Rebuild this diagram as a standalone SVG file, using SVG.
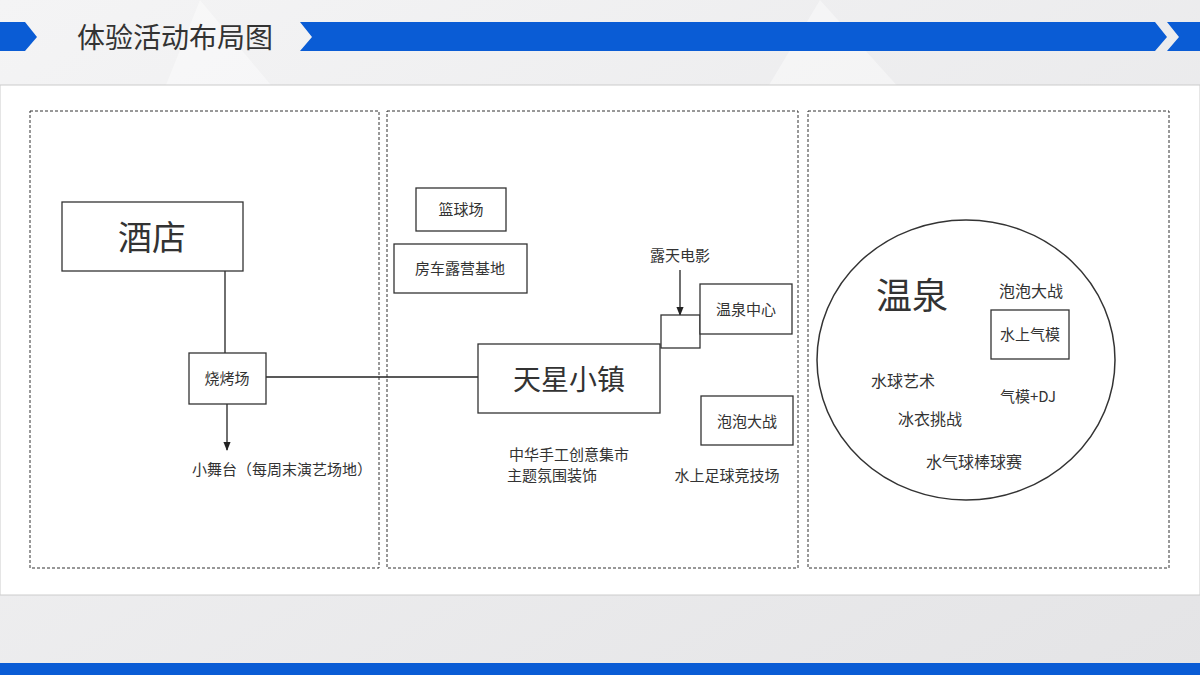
<svg xmlns="http://www.w3.org/2000/svg" width="1200" height="675" viewBox="0 0 1200 675">
<defs>
<marker id="ar" viewBox="0 0 10 10" refX="9" refY="5" markerWidth="7" markerHeight="7" orient="auto"><path d="M0,1 L10,5 L0,9 z" fill="#222"/></marker>
<linearGradient id="bg" x1="0" y1="0" x2="1" y2="1"><stop offset="0" stop-color="#f4f4f5"/><stop offset="1" stop-color="#e4e4e6"/></linearGradient>
</defs>
<style>
.t{font-family:"Noto Sans CJK SC","Noto Sans",sans-serif;fill:#333;text-anchor:middle}
.b{fill:#fff;stroke:#333;stroke-width:1.3}
.d{fill:none;stroke:#333;stroke-width:1;stroke-dasharray:3,2}
.c{stroke:#222;stroke-width:1.3;fill:none}
</style>
<rect width="1200" height="675" fill="url(#bg)"/>
<polygon points="200,0 350,180 100,250" fill="#fff" opacity="0.4"/>
<polygon points="820,0 1000,200 700,200" fill="#fff" opacity="0.4"/>
<polygon points="0,22 25,22 37,37 25,51 0,51" fill="#0a5cd5"/>
<polygon points="300,22 1155,22 1167,37 1155,51 300,51 312,37" fill="#0a5cd5"/>
<polygon points="1167,22 1200,22 1200,51 1167,51 1179,37" fill="#0a5cd5"/>
<text x="175" y="48" class="t" font-size="28" fill="#333">体验活动布局图</text>
<rect x="0" y="663" width="1200" height="12" fill="#0a5cd5"/>
<rect x="0" y="85" width="1200" height="510" fill="#fff" stroke="#ccc"/>
<rect x="30" y="111" width="349" height="457" class="d"/>
<rect x="387" y="111" width="411" height="457" class="d"/>
<rect x="808" y="111" width="361" height="457" class="d"/>
<g id="connectors">
<line x1="225" y1="271" x2="225" y2="353" class="c"/>
<line x1="266" y1="377" x2="478" y2="377" class="c"/>
<line x1="227" y1="404" x2="227" y2="450" class="c" marker-end="url(#ar)"/>
<line x1="680" y1="270" x2="680" y2="315" class="c" marker-end="url(#ar)"/>
</g>
<g id="hotel"><rect x="62" y="202" width="181" height="69" class="b"/><text x="152" y="250" class="t" font-size="34">酒店</text></g>
<g id="bbq"><rect x="189" y="353" width="77" height="51" class="b"/><text x="227" y="384" class="t" font-size="15">烧烤场</text></g>
<g id="stage"><text x="282" y="475" class="t" font-size="15">小舞台（每周末演艺场地）</text></g>
<g id="basket"><rect x="416" y="188" width="90" height="43" class="b"/><text x="461" y="215" class="t" font-size="15">篮球场</text></g>
<g id="rv"><rect x="394" y="244" width="133" height="49" class="b"/><text x="460" y="274" class="t" font-size="15">房车露营基地</text></g>
<g id="town"><rect x="478" y="344" width="182" height="69" class="b"/><text x="569" y="390" class="t" font-size="28">天星小镇</text></g>
<g id="small"><rect x="661" y="315" width="39" height="33" class="b"/></g>
<g id="movie"><text x="680" y="261" class="t" font-size="15">露天电影</text></g>
<g id="spa"><rect x="700" y="284" width="92" height="50" class="b"/><text x="746" y="315" class="t" font-size="15">温泉中心</text></g>
<g id="bubble"><rect x="701" y="396" width="92" height="49" class="b"/><text x="747" y="427" class="t" font-size="15">泡泡大战</text></g>
<g id="craft"><text x="569" y="460" class="t" font-size="15">中华手工创意集市</text><text x="552" y="481" class="t" font-size="15">主题氛围装饰</text></g>
<g id="soccer"><text x="727" y="481" class="t" font-size="15">水上足球竞技场</text></g>
<g id="hotspring">
<ellipse cx="966" cy="360" rx="149" ry="140" fill="#fff" stroke="#333" stroke-width="1.5"/>
<text x="912" y="309" class="t" font-size="36">温泉</text>
<text x="1031" y="297" class="t" font-size="16">泡泡大战</text>
<rect x="991" y="310" width="78" height="49" class="b"/><text x="1030" y="340" class="t" font-size="15">水上气模</text>
<text x="903" y="387" class="t" font-size="16">水球艺术</text>
<text x="1028" y="402" class="t" font-size="15">气模+DJ</text>
<text x="930" y="425" class="t" font-size="16">冰衣挑战</text>
<text x="974" y="468" class="t" font-size="16">水气球棒球赛</text>
</g>
</svg>
